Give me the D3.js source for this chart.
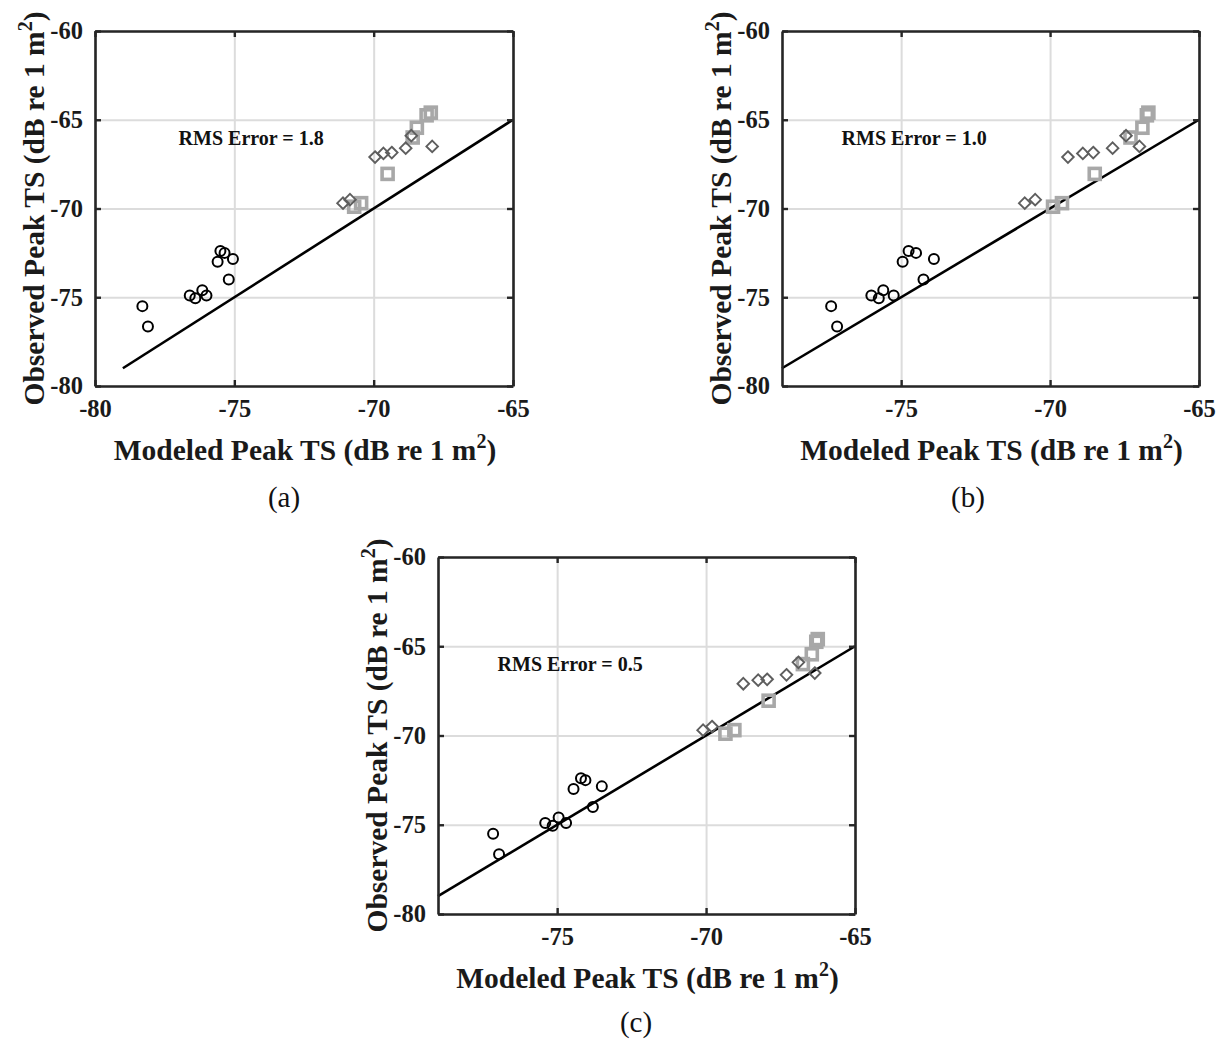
<!DOCTYPE html>
<html>
<head>
<meta charset="utf-8">
<script src="https://cdn.jsdelivr.net/npm/d3@7"></script>
<style>
  html, body { margin: 0; padding: 0; background: #fff; }
  svg { display: block; }
</style>
</head>
<body>
<svg id="fig" width="1220" height="1044"></svg>
<script>
// Observed peak target strength for the three target groups (dB re 1 m^2)
const observedCircles  = [-75.5, -76.65, -74.9, -75.05, -74.6, -74.9, -73.0, -72.4, -72.5, -72.85, -74.0];
const observedDiamonds = [-69.7, -69.5, -67.1, -66.9, -66.85, -66.6, -65.9, -66.5];
const observedSquares  = [-69.9, -69.7, -68.05, -66.0, -65.45, -64.75, -64.6];

// Modeled peak target strength, one set per model version
const modeledCirclesA  = [-78.3, -78.1, -76.6, -76.4, -76.15, -76.0, -75.6, -75.5, -75.35, -75.05, -75.2];
const modeledDiamondsA = [-71.1, -70.85, -69.95, -69.65, -69.35, -68.85, -68.65, -67.9];
const modeledSquaresA  = [-70.7, -70.45, -69.5, -68.6, -68.45, -68.1, -67.95];

const modeledCirclesB  = [-77.35, -77.15, -76.0, -75.75, -75.6, -75.25, -74.95, -74.75, -74.5, -73.9, -74.25];
const modeledDiamondsB = [-70.85, -70.5, -69.4, -68.9, -68.55, -67.9, -67.45, -67.0];
const modeledSquaresB  = [-69.9, -69.6, -68.5, -67.3, -66.9, -66.75, -66.7];

const modeledCirclesC  = [-77.15, -76.95, -75.4, -75.15, -74.95, -74.7, -74.45, -74.2, -74.05, -73.5, -73.8];
const modeledDiamondsC = [-70.1, -69.8, -68.75, -68.25, -67.95, -67.3, -66.9, -66.35];
const modeledSquaresC  = [-69.35, -69.05, -67.9, -66.75, -66.45, -66.3, -66.25];

const rmsErrors   = ["1.8", "1.0", "0.5"];
const panelTags   = ["(a)", "(b)", "(c)"];
const xTicksA     = [-80, -75, -70, -65];
const xTicksBC    = [-75, -70, -65];
const yTicks      = [-80, -75, -70, -65, -60];
const oneToOne    = [-79, -65];   // extent of the 1:1 reference line
const rmsAnchor   = [-77, -66];   // data position of the RMS annotation

const panels = [
  { tag: panelTags[0], rms: rmsErrors[0], xDomain: [-80, -65], xTicks: xTicksA,
    circles: modeledCirclesA, diamonds: modeledDiamondsA, squares: modeledSquaresA,
    box: { left: 95, right: 513, top: 31, bottom: 386 }, tagX: 284, tagY: 507 },
  { tag: panelTags[1], rms: rmsErrors[1], xDomain: [-79, -65], xTicks: xTicksBC,
    circles: modeledCirclesB, diamonds: modeledDiamondsB, squares: modeledSquaresB,
    box: { left: 782, right: 1199, top: 31, bottom: 386 }, tagX: 968, tagY: 507 },
  { tag: panelTags[2], rms: rmsErrors[2], xDomain: [-79, -65], xTicks: xTicksBC,
    circles: modeledCirclesC, diamonds: modeledDiamondsC, squares: modeledSquaresC,
    box: { left: 438, right: 855, top: 557, bottom: 914 }, tagX: 636, tagY: 1032 }
];

const svg = d3.select("#fig");
const serif = "'Liberation Serif', 'Times New Roman', serif";
const boxColor = "#262626";
const tickFmt = d => String(d);   // plain hyphen-minus labels

function addTitle(sel, label) {
  sel.append("tspan").text(label + " (dB re 1 m");
  sel.append("tspan").attr("dy", -12).attr("font-size", 20).text("2");
  sel.append("tspan").attr("dy", 12).text(")");
}

function drawPanel(p) {
  const b = p.box;
  const x = d3.scaleLinear().domain(p.xDomain).range([b.left, b.right]);
  const y = d3.scaleLinear().domain([-80, -60]).range([b.bottom, b.top]);
  const g = svg.append("g");
  const w = b.right - b.left, h = b.bottom - b.top;

  // grid
  const grid = g.append("g");
  grid.append("g")
    .attr("transform", `translate(0,${b.bottom})`)
    .call(d3.axisBottom(x).tickValues(p.xTicks).tickSize(-h).tickFormat(""))
    .call(s => s.select(".domain").remove())
    .call(s => s.selectAll("line").attr("stroke", "#dcdcdc").attr("stroke-width", 2));
  grid.append("g")
    .attr("transform", `translate(${b.left},0)`)
    .call(d3.axisLeft(y).tickValues(yTicks).tickSize(-w).tickFormat(""))
    .call(s => s.select(".domain").remove())
    .call(s => s.selectAll("line").attr("stroke", "#dcdcdc").attr("stroke-width", 2));

  // 1:1 line
  g.append("line")
    .attr("x1", x(oneToOne[0])).attr("y1", y(oneToOne[0]))
    .attr("x2", x(oneToOne[1])).attr("y2", y(oneToOne[1]))
    .attr("stroke", "#000").attr("stroke-width", 2.6);

  // markers
  const circ = observedCircles.map((o, i) => ({ m: p.circles[i], o }));
  const dia  = observedDiamonds.map((o, i) => ({ m: p.diamonds[i], o }));
  const sq   = observedSquares.map((o, i) => ({ m: p.squares[i], o }));

  g.append("g").selectAll("circle").data(circ).join("circle")
    .attr("cx", d => x(d.m)).attr("cy", d => y(d.o)).attr("r", 5)
    .attr("fill", "none").attr("stroke", "#000").attr("stroke-width", 2);

  const sqSize = 11;
  g.append("g").selectAll("rect").data(sq).join("rect")
    .attr("x", d => x(d.m) - sqSize / 2).attr("y", d => y(d.o) - sqSize / 2)
    .attr("width", sqSize).attr("height", sqSize)
    .attr("fill", "none").attr("stroke", "#a8a8a8").attr("stroke-width", 3.6);

  const dr = 5.8;
  g.append("g").selectAll("path").data(dia).join("path")
    .attr("d", d => {
      const cx = x(d.m), cy = y(d.o);
      return `M${cx},${cy - dr}L${cx + dr},${cy}L${cx},${cy + dr}L${cx - dr},${cy}Z`;
    })
    .attr("fill", "none").attr("stroke", "#5e5e5e").attr("stroke-width", 1.9);

  // RMS annotation
  g.append("text")
    .attr("x", x(rmsAnchor[0])).attr("y", y(rmsAnchor[1]))
    .attr("dy", "0.35em")
    .attr("font-family", serif).attr("font-weight", "bold").attr("font-size", 20)
    .attr("fill", "#111")
    .text(`RMS Error = ${p.rms}`);

  // box with inward ticks on all four sides
  const tickLen = 6;
  const axes = g.append("g").attr("font-family", serif);
  const styleAxis = s => {
    s.select(".domain").attr("stroke", boxColor).attr("stroke-width", 2.6);
    s.selectAll(".tick line").attr("stroke", boxColor).attr("stroke-width", 2.4);
  };
  const styleLabels = s => s.selectAll("text").attr("font-size", 24.5).attr("font-weight", "bold")
    .attr("fill", "#1a1a1a").attr("font-family", serif);
  axes.append("g").attr("transform", `translate(0,${b.bottom})`)
    .call(d3.axisBottom(x).tickValues(p.xTicks).tickSizeInner(-tickLen).tickSizeOuter(0)
      .tickPadding(14).tickFormat(tickFmt))
    .call(styleAxis).call(styleLabels);
  axes.append("g").attr("transform", `translate(0,${b.top})`)
    .call(d3.axisTop(x).tickValues(p.xTicks).tickSizeInner(-tickLen).tickSizeOuter(0).tickFormat(""))
    .call(styleAxis);
  axes.append("g").attr("transform", `translate(${b.left},0)`)
    .call(d3.axisLeft(y).tickValues(yTicks).tickSizeInner(-tickLen).tickSizeOuter(0)
      .tickPadding(12).tickFormat(tickFmt))
    .call(styleAxis).call(styleLabels);
  axes.append("g").attr("transform", `translate(${b.right},0)`)
    .call(d3.axisRight(y).tickValues(yTicks).tickSizeInner(-tickLen).tickSizeOuter(0).tickFormat(""))
    .call(styleAxis);

  // axis titles
  const xl = g.append("text")
    .attr("x", (b.left + b.right) / 2 + 1).attr("y", b.bottom + 74)
    .attr("text-anchor", "middle")
    .attr("font-family", serif).attr("font-weight", "bold").attr("font-size", 29.5)
    .attr("fill", "#1a1a1a");
  addTitle(xl, "Modeled Peak TS");

  const cy = (b.top + b.bottom) / 2;
  const yl = g.append("text")
    .attr("transform", `translate(${b.left - 51},${cy}) rotate(-90)`)
    .attr("text-anchor", "middle")
    .attr("font-family", serif).attr("font-weight", "bold").attr("font-size", 29.5)
    .attr("fill", "#1a1a1a");
  addTitle(yl, "Observed Peak TS");

  // panel tag
  g.append("text")
    .attr("x", p.tagX).attr("y", p.tagY)
    .attr("text-anchor", "middle")
    .attr("font-family", serif).attr("font-size", 29)
    .attr("fill", "#111")
    .text(p.tag);
}

panels.forEach(drawPanel);
</script>
</body>
</html>
